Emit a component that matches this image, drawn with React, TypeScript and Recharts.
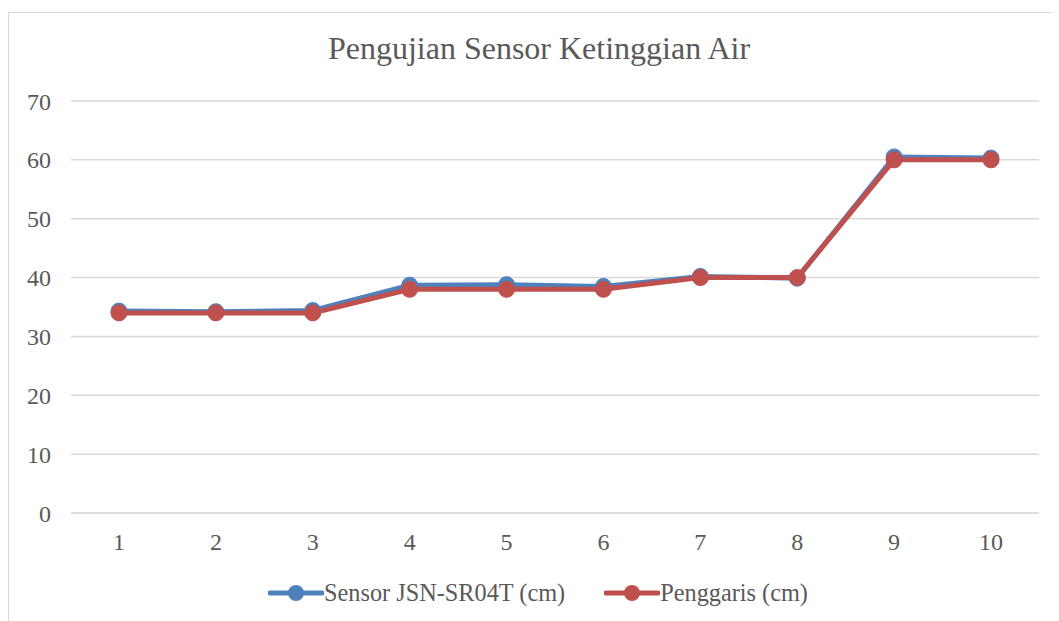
import React from "react";
import { LineChart, Line, XAxis, YAxis, CartesianGrid, Legend } from "recharts";

const categories = ["1", "2", "3", "4", "5", "6", "7", "8", "9", "10"];
const sensorValues = [34.3, 34.2, 34.4, 38.7, 38.8, 38.5, 40.2, 39.9, 60.5, 60.3];
const rulerValues = [34, 34, 34, 38, 38, 38, 40, 40, 60, 60];
const yTicks = [0, 10, 20, 30, 40, 50, 60, 70];

const SENSOR = "Sensor JSN-SR04T (cm)";
const RULER = "Penggaris (cm)";

const data = categories.map((c, i) => ({
  name: c,
  [SENSOR]: sensorValues[i],
  [RULER]: rulerValues[i],
}));

const FONT = '"Liberation Serif", "Times New Roman", serif';
const TEXT = "#595959";
const BLUE = "#4F81BD";
const RED = "#C0504D";

function LegendContent() {
  const items = [
    { label: SENSOR, color: BLUE },
    { label: RULER, color: RED },
  ];
  return (
    <div style={{ display: "flex", justifyContent: "center", gap: 39, fontFamily: FONT, paddingLeft: 28 }}>
      {items.map((it) => (
        <div key={it.label} style={{ display: "flex", alignItems: "center" }}>
          <svg width={56} height={20}>
            <line x1={2} y1={10} x2={54} y2={10} stroke={it.color} strokeWidth={5} strokeLinecap="round" />
            <circle cx={28} cy={10} r={8} fill={it.color} />
          </svg>
          <span style={{ fontSize: 24.3, color: TEXT }}>{it.label}</span>
        </div>
      ))}
    </div>
  );
}

export default function App() {
  return (
    <div
      style={{
        position: "relative",
        marginTop: 4,
        width: 1060,
        height: 612,
        borderTop: "1px solid #d9d9d9",
        borderLeft: "1px solid #d9d9d9",
        background: "#fff",
        overflow: "hidden",
      }}
    >
      <div
        style={{
          position: "absolute",
          top: 17,
          left: 0,
          width: 1060,
          textAlign: "center",
          fontFamily: FONT,
          fontSize: 32,
          color: TEXT,
        }}
      >
        Pengujian Sensor Ketinggian Air
      </div>
      <LineChart
        width={1051}
        height={609}
        data={data}
        margin={{ top: 88, right: 21, left: 0, bottom: 0 }}
      >
        <CartesianGrid stroke="#d9d9d9" strokeWidth={1.5} vertical={false} />
        <XAxis
          dataKey="name"
          tickLine={false}
          padding={{ left: 48, right: 48 }}
          axisLine={{ stroke: "#d9d9d9", strokeWidth: 1.5 }}
          tick={{ fill: TEXT, fontSize: 24, fontFamily: FONT }}
          tickMargin={14}
          height={45}
        />
        <YAxis
          domain={[0, 70]}
          ticks={yTicks}
          width={62}
          axisLine={false}
          tickLine={false}
          tick={{ fill: TEXT, fontSize: 24, fontFamily: FONT, dx: -12 }}
        />
        <Legend
          verticalAlign="bottom"
          height={64}
          content={<LegendContent />}
          wrapperStyle={{ top: 566, bottom: "auto" }}
        />
        <Line
          dataKey={SENSOR}
          stroke={BLUE}
          strokeWidth={5}
          dot={{ r: 8, fill: BLUE, stroke: BLUE, strokeWidth: 1 }}
          isAnimationActive={false}
        />
        <Line
          dataKey={RULER}
          stroke={RED}
          strokeWidth={5}
          dot={{ r: 8, fill: RED, stroke: RED, strokeWidth: 1 }}
          isAnimationActive={false}
        />
      </LineChart>
    </div>
  );
}
